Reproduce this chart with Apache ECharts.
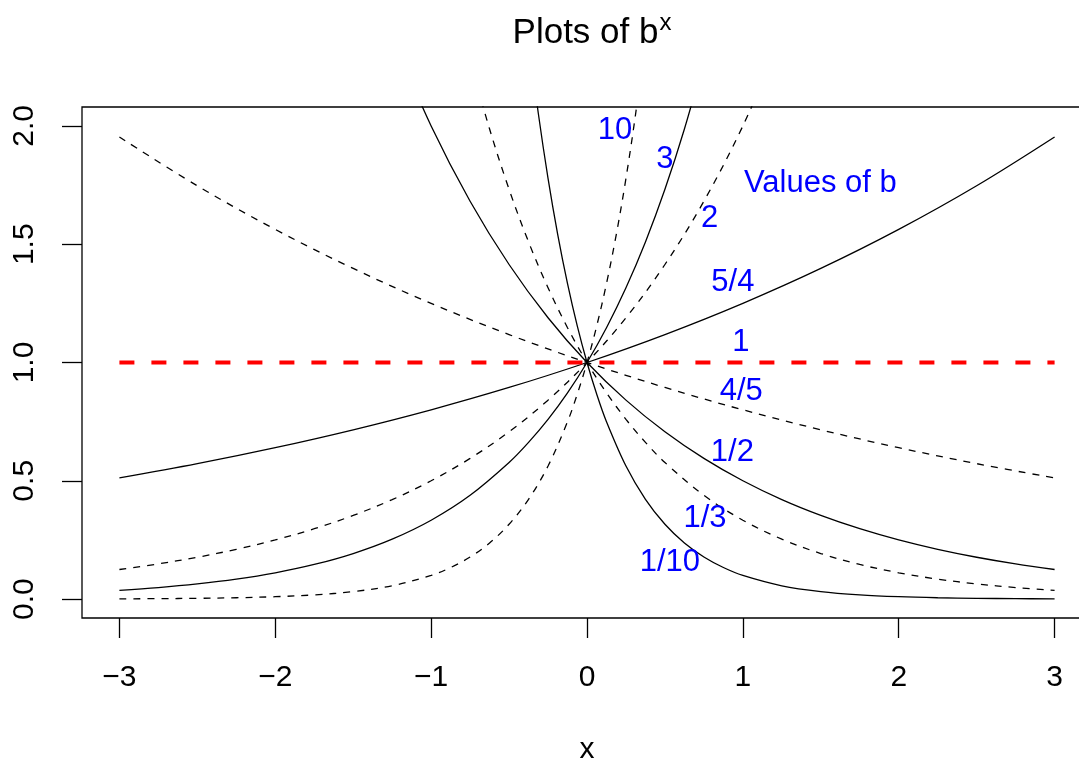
<!DOCTYPE html>
<html><head><meta charset="utf-8">
<script src="https://cdn.jsdelivr.net/npm/echarts@6/dist/echarts.min.js"></script>
<style>html,body{margin:0;padding:0;background:#fff}#c{width:1079px;height:765px}</style>
</head><body><div id="c"></div>
<script>
// b^x curves, values
const curve10 = [[-3,0.001],[-2.75,0.0018],[-2.5,0.0032],[-2.25,0.0056],[-2,0.01],[-1.75,0.0178],[-1.5,0.0316],[-1.25,0.0562],[-1,0.1],[-0.875,0.1334],[-0.75,0.1778],[-0.625,0.2371],[-0.5,0.3162],[-0.375,0.4217],[-0.25,0.5623],[-0.125,0.7499],[-0.0625,0.8660],[0,1],[0.0625,1.1548],[0.125,1.3335],[0.1875,1.5399],[0.25,1.7783],[0.3125,2.0535],[0.375,2.3714]];
const curve3 = [[-3,0.0370],[-2.75,0.0487],[-2.5,0.0642],[-2.25,0.0844],[-2,0.1111],[-1.75,0.1462],[-1.5,0.1925],[-1.25,0.2533],[-1,0.3333],[-0.75,0.4387],[-0.5,0.5774],[-0.375,0.6624],[-0.25,0.7598],[-0.125,0.8717],[0,1],[0.125,1.1472],[0.25,1.3161],[0.375,1.5098],[0.5,1.7321],[0.625,1.9870],[0.75,2.2795]];
const curve2 = [[-3,0.125],[-2.75,0.1487],[-2.5,0.1768],[-2.25,0.2102],[-2,0.25],[-1.75,0.2973],[-1.5,0.3536],[-1.25,0.4204],[-1,0.5],[-0.75,0.5946],[-0.5,0.7071],[-0.25,0.8409],[0,1],[0.25,1.1892],[0.5,1.4142],[0.75,1.6818],[1,2],[1.25,2.3784]];
const curve54 = [[-3,0.512],[-2.5,0.5724],[-2,0.64],[-1.5,0.7155],[-1,0.8],[-0.5,0.8944],[0,1],[0.5,1.1180],[1,1.25],[1.5,1.3975],[2,1.5625],[2.5,1.7469],[3,1.9531]];
const curve1 = [[-3,1],[3,1]];
const curve45 = [[-3,1.9531],[-2.5,1.7469],[-2,1.5625],[-1.5,1.3975],[-1,1.25],[-0.5,1.1180],[0,1],[0.5,0.8944],[1,0.8],[1.5,0.7155],[2,0.64],[2.5,0.5724],[3,0.512]];
const curveHalf = [[-1.25,2.3784],[-1,2],[-0.75,1.6818],[-0.5,1.4142],[-0.25,1.1892],[0,1],[0.25,0.8409],[0.5,0.7071],[0.75,0.5946],[1,0.5],[1.25,0.4204],[1.5,0.3536],[1.75,0.2973],[2,0.25],[2.25,0.2102],[2.5,0.1768],[2.75,0.1487],[3,0.125]];
const curveThird = [[-0.75,2.2795],[-0.625,1.9870],[-0.5,1.7321],[-0.375,1.5098],[-0.25,1.3161],[-0.125,1.1472],[0,1],[0.125,0.8717],[0.25,0.7598],[0.375,0.6624],[0.5,0.5774],[0.75,0.4387],[1,0.3333],[1.25,0.2533],[1.5,0.1925],[1.75,0.1462],[2,0.1111],[2.25,0.0844],[2.5,0.0642],[2.75,0.0487],[3,0.0370]];
const curveTenth = [[-0.375,2.3714],[-0.3125,2.0535],[-0.25,1.7783],[-0.1875,1.5399],[-0.125,1.3335],[-0.0625,1.1548],[0,1],[0.0625,0.8660],[0.125,0.7499],[0.25,0.5623],[0.375,0.4217],[0.5,0.3162],[0.625,0.2371],[0.75,0.1778],[0.875,0.1334],[1,0.1],[1.25,0.0562],[1.5,0.0316],[1.75,0.0178],[2,0.01],[2.25,0.0056],[2.5,0.0032],[2.75,0.0018],[3,0.001]];

const labelText = ['10','3','2','5/4','1','4/5','1/2','1/3','1/10','Values of b'];
const labelX = [0.18,0.50,0.786,0.936,0.988,0.99,0.933,0.757,0.532,1.497];
const labelY = [1.98,1.86,1.61,1.337,1.085,0.878,0.620,0.339,0.156,1.755];

const xTicks = [-3,-2,-1,0,1,2,3];
const yTicks = [0,0.5,1,1.5,2];

const FONT = '"Liberation Sans", Arial, Helvetica, sans-serif';
const chart = echarts.init(document.getElementById('c'), null, {renderer:'canvas'});

function curve(data, dashed){
  return {type:'line', data:data, showSymbol:false, smooth:0.35, clip:true,
    lineStyle:{color:'#000', width:1.3, type: dashed ? [7,7] : 'solid'}, silent:true, z:2};
}

chart.setOption({
  animation:false,
  backgroundColor:'#fff',
  title:{text:'{a|Plots of b}{s|x}', left:587, top:6, textAlign:'center',
    textStyle:{fontWeight:'normal', rich:{a:{fontSize:35, fontFamily:FONT, color:'#000', fontWeight:'normal'},
      s:{fontSize:24, fontFamily:FONT, color:'#000', fontWeight:'normal', padding:[0,0,21,1]}}}},
  grid:{left:82, top:107, width:1010, height:511, show:true, borderColor:'#000', borderWidth:1.3,
    backgroundColor:'transparent', outerBoundsMode:'none', containLabel:false},
  xAxis:{type:'value', min:-3.24, max:3.24, name:'x', nameLocation:'middle', nameGap:117,
    nameTextStyle:{fontSize:30, fontFamily:FONT, color:'#000'},
    axisLine:{show:false, onZero:false}, splitLine:{show:false},
    axisTick:{show:true, inside:false, length:20, customValues:xTicks, lineStyle:{color:'#000', width:1.3}},
    axisLabel:{customValues:xTicks, margin:45, fontSize:30, fontFamily:FONT, color:'#000',
      formatter:v => (v<0 ? '\u2212'+(-v) : String(v))}},
  yAxis:{type:'value', min:-0.08, max:2.08,
    axisLine:{show:false, onZero:false}, splitLine:{show:false},
    axisTick:{show:true, inside:false, length:20, customValues:yTicks, lineStyle:{color:'#000', width:1.3}},
    axisLabel:{customValues:yTicks, rotate:90, margin:42, fontSize:30, fontFamily:FONT, color:'#000',
      formatter:v => v.toFixed(1)}},
  series:[
    curve(curve10,true), curve(curve3,false), curve(curve2,true), curve(curve54,false),
    curve(curve45,true), curve(curveHalf,false), curve(curveThird,true), curve(curveTenth,false),
    {type:'line', data:curve1, showSymbol:false, clip:true, silent:true, z:3,
      lineStyle:{color:'#ff0000', width:4, type:[15,17], cap:'butt'}},
    {type:'scatter', symbolSize:0, silent:true, z:5, itemStyle:{opacity:1},
      data: labelText.map((t,i)=>[labelX[i], labelY[i], t]),
      label:{show:true, position:'inside', formatter:p=>p.value[2], color:'#0000ff', opacity:1, fontSize:31, fontFamily:FONT}}
  ]
});
</script></body></html>
